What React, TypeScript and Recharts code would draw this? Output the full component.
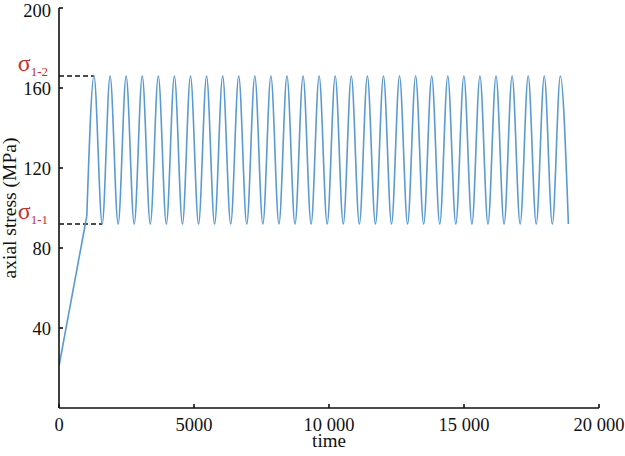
import { LineChart, Line, XAxis, YAxis, ReferenceLine, Label } from "recharts";

// initial loading ramp (time, MPa)
const rampTime = [0, 1030];
const rampStress = [21, 96];

// cyclic part: peak and trough times
const peakTimes = [
    1296, 1892, 2487, 3083, 3678, 4274, 4870, 5465, 6061, 6656,
    7252, 7848, 8443, 9039, 9634, 10230, 10826, 11421, 12017, 12612,
    13208, 13804, 14399, 14995, 15590, 16186, 16782, 17377, 17973, 18568,
];
const troughTimes = [
    1600, 2190, 2785, 3381, 3976, 4572, 5168, 5763, 6359, 6954,
    7550, 8146, 8741, 9337, 9932, 10528, 11124, 11719, 12315, 12910,
    13506, 14102, 14697, 15293, 15888, 16484, 17080, 17675, 18271, 18866,
];
const peakStress = 166;   // sigma 1-2
const troughStress = 92;  // sigma 1-1

const xTicks = [0, 5000, 10000, 15000, 20000];
const xTickLabels = ["0", "5000", "10 000", "15 000", "20 000"];
const yTicks = [40, 80, 120, 160, 200];

const SERIF = "'Liberation Serif', 'Times New Roman', serif";
const INK = "#111";
const RED = "#c8302c";
const BLUE = "#5a9ad2";
const FS = 18.5;

const rampData = rampTime.map((t, i) => ({ t, s: rampStress[i] }));

const cycleData = [{ t: rampTime[rampTime.length - 1], s: rampStress[rampStress.length - 1] }];
peakTimes.forEach((t, i) => {
    cycleData.push({ t, s: peakStress });
    cycleData.push({ t: troughTimes[i], s: troughStress });
});

function sigmaLabel(sub: string) {
    return (props: any) => {
        const vb = props.viewBox;
        if (!vb) return null;
        return (
            <text x={vb.x - 11} y={vb.y - 5} textAnchor="end" fill={RED} fontFamily={SERIF}>
                <tspan fontSize={24}>σ</tspan>
                <tspan fontSize={13} dy={5}>{sub}</tspan>
            </text>
        );
    };
}

function yTitle(props: any) {
    const vb = props.viewBox;
    const cx = 16;
    const cy = vb.y + vb.height / 2;
    return (
        <text x={cx} y={cy} transform={`rotate(-90, ${cx}, ${cy})`} textAnchor="middle"
              fontSize={19.5} fill={INK} fontFamily={SERIF}>
            axial stress (MPa)
        </text>
    );
}

function xTitle(props: any) {
    const vb = props.viewBox;
    return (
        <text x={vb.x + vb.width / 2} y={vb.y + 39} textAnchor="middle"
              fontSize={19} fill={INK} fontFamily={SERIF}>
            time
        </text>
    );
}

export default function App() {
    return (
        <div style={{ position: "absolute", left: 0, top: 0, background: "#fff" }}>
            <LineChart width={625} height={456} margin={{ top: 8, right: 26, bottom: 0, left: 0 }}>
                <XAxis
                    type="number"
                    dataKey="t"
                    domain={[0, 20000]}
                    ticks={xTicks}
                    tickFormatter={(v: number) => xTickLabels[xTicks.indexOf(v)] ?? String(v)}
                    height={48}
                    tickSize={-4}
                    tickMargin={14}
                    stroke={INK}
                    strokeWidth={1.6}
                    tick={{ fontSize: FS, fill: INK, fontFamily: SERIF }}
                    allowDataOverflow
                >
                    <Label content={xTitle} />
                </XAxis>
                <YAxis
                    type="number"
                    domain={[0, 200]}
                    ticks={yTicks}
                    width={59}
                    tickSize={-4}
                    tickMargin={12}
                    stroke={INK}
                    strokeWidth={1.6}
                    tick={{ fontSize: FS, fill: INK, fontFamily: SERIF }}
                    allowDataOverflow
                >
                    <Label content={yTitle} />
                </YAxis>
                <ReferenceLine
                    segment={[{ x: 0, y: peakStress }, { x: peakTimes[0], y: peakStress }]}
                    stroke={INK}
                    strokeWidth={1.6}
                    strokeDasharray="5 3"
                    label={sigmaLabel("1-2")}
                />
                <ReferenceLine
                    segment={[{ x: 0, y: troughStress }, { x: troughTimes[0], y: troughStress }]}
                    stroke={INK}
                    strokeWidth={1.6}
                    strokeDasharray="5 3"
                    label={sigmaLabel("1-1")}
                />
                <Line data={rampData} dataKey="s" type="linear" stroke={BLUE} strokeWidth={1.6}
                      dot={false} isAnimationActive={false} />
                <Line data={cycleData} dataKey="s" type="monotone" stroke={BLUE} strokeWidth={1.6}
                      dot={false} isAnimationActive={false} />
            </LineChart>
        </div>
    );
}
